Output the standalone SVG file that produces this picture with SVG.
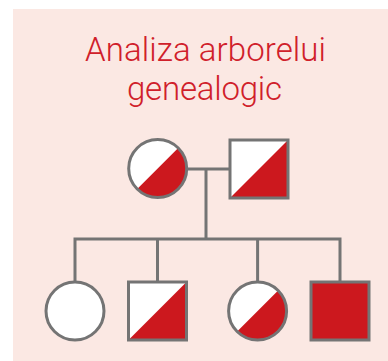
<svg xmlns="http://www.w3.org/2000/svg" width="388" height="361" viewBox="0 0 388 361">
<style>
.bg{fill:#fbe8e3}
.title{font-family:Roboto,"Liberation Sans",Arial,sans-serif;font-weight:300;font-size:33px;fill:#d0202a;text-anchor:middle}
.sym{fill:#ffffff;stroke:none}
.aff{fill:#cc181e;stroke:none}
.out{fill:none;stroke:#747474;stroke-width:3}
.ln{fill:none;stroke:#747474;stroke-width:3}
</style>
<rect class="bg" x="13" y="9" width="375" height="352"/>
<text class="title" x="205.5" y="61" textLength="241">Analiza arborelui</text>
<text class="title" x="204.5" y="100" textLength="155">genealogic</text>
<g id="connectors">
<path class="ln" d="M187 169H229M206 169V239M73.5 239H341.5M75 239V282M157.5 239V282M257.6 239V282M340 239V282"/>
</g>
<g id="mother">
<circle class="sym" cx="157.7" cy="168.5" r="29"/>
<path class="aff" d="M137.2 189A29 29 0 0 0 178.2 148Z"/>
<circle class="out" cx="157.7" cy="168.5" r="29"/>
</g>
<g id="father">
<rect class="sym" x="230" y="140" width="58" height="58"/>
<polygon class="aff" points="230,198 288,140 288,198"/>
<rect class="out" x="230" y="140" width="58" height="58"/>
</g>
<g id="child1">
<circle class="sym" cx="75" cy="311" r="29"/>
<circle class="out" cx="75" cy="311" r="29"/>
</g>
<g id="child2">
<rect class="sym" x="128.5" y="282" width="58" height="58"/>
<polygon class="aff" points="128.5,340 186.5,282 186.5,340"/>
<rect class="out" x="128.5" y="282" width="58" height="58"/>
</g>
<g id="child3">
<circle class="sym" cx="257.6" cy="311" r="29"/>
<path class="aff" d="M237.1 331.5A29 29 0 0 0 278.1 290.5Z"/>
<circle class="out" cx="257.6" cy="311" r="29"/>
</g>
<g id="child4">
<rect class="aff" x="311" y="282" width="58" height="58"/>
<rect class="out" x="311" y="282" width="58" height="58"/>
</g>
</svg>
